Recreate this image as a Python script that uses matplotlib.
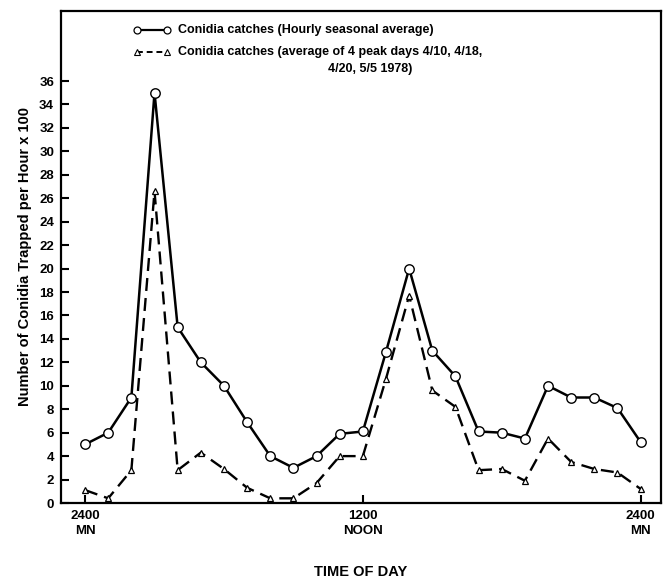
import matplotlib
matplotlib.use("Agg")
import matplotlib.pyplot as plt
from matplotlib.lines import Line2D

plt.rcParams['font.family'] = ['Liberation Sans', 'DejaVu Sans']
plt.rcParams['font.weight'] = 'bold'

hours = list(range(25))
seasonal_avg = [5.0, 6.0, 9.0, 35.0, 15.0, 12.0, 10.0, 6.9, 4.0, 3.0, 4.0, 5.9, 6.1,
                12.9, 20.0, 13.0, 10.8, 6.1, 6.0, 5.5, 10.0, 9.0, 9.0, 8.1, 5.2]
peak_days_avg = [1.1, 0.4, 2.8, 26.6, 2.8, 4.3, 2.9, 1.3, 0.4, 0.4, 1.7, 4.0, 4.0,
                 10.6, 17.7, 9.6, 8.2, 2.8, 2.9, 1.9, 5.5, 3.5, 2.9, 2.6, 1.2]
x_ticks = [0, 12, 24]
x_tick_labels = ["2400\nMN", "1200\nNOON", "2400\nMN"]
y_ticks = list(range(0, 37, 2))
label_seasonal = "Conidia catches (Hourly seasonal average)"
label_peak_1 = "Conidia catches (average of 4 peak days 4/10, 4/18,"
label_peak_2 = "4/20, 5/5 1978)"

W, H = 670, 579
fig = plt.figure(figsize=(W / 100, H / 100), dpi=100)
ax = fig.add_axes([61 / W, 1 - 503 / H, (661 - 61) / W, (503 - 10.7) / H])

ax.plot(hours, seasonal_avg, color='black', lw=1.8, marker='o', ms=6.8,
        mfc='white', mec='black', mew=1.0, zorder=3)
ax.plot(hours, peak_days_avg, color='black', lw=1.7, ls=(0, (5.5, 3)), marker='^', ms=5,
        mfc='white', mec='black', mew=0.9, zorder=3)

ax.set_xlim(-1.04, 24.88)
ax.set_ylim(0, 42.0)
ax.set_xticks(x_ticks)
ax.set_xticklabels(x_tick_labels, fontsize=9.5, fontweight='bold', linespacing=1.35)
ax.set_yticks(y_ticks)
ax.set_yticklabels([str(v) for v in y_ticks], fontsize=9.5, fontweight='bold')
ax.tick_params(axis='both', direction='in', length=6, width=1.5, pad=5)
for s in ax.spines.values():
    s.set_linewidth(1.6)

ax.set_ylabel("Number of Conidia Trapped per Hour x 100", fontsize=10.5,
              fontweight='bold', labelpad=5)
fig.text(0.5 * (61 + 661) / W, 1 - 572 / H, "TIME OF DAY", ha='center', va='center',
         fontsize=10.5, fontweight='bold')

# legend drawn manually
def px(x, y):
    return x / W, 1 - y / H

fig.add_artist(Line2D([137 / W, 167 / W], [1 - 29.5 / H] * 2, color='black', lw=1.6,
                      marker='o', ms=5, mfc='white', mec='black', mew=0.9,
                      markevery=[0, 1]))
fig.add_artist(Line2D([137 / W, 167 / W], [1 - 52 / H] * 2, color='black', lw=1.4,
                      ls=(0, (3, 2)), marker='^', ms=4, mfc='white', mec='black',
                      mew=0.8, markevery=[0, 1]))
fig.text(*px(178, 29.5), label_seasonal, ha='left', va='center', fontsize=9,
         fontweight='bold')
fig.text(*px(178, 52), label_peak_1, ha='left', va='center', fontsize=9,
         fontweight='bold')
fig.text(*px(328, 68.5), label_peak_2, ha='left', va='center', fontsize=9,
         fontweight='bold')

fig.savefig("out.png", dpi=100)
